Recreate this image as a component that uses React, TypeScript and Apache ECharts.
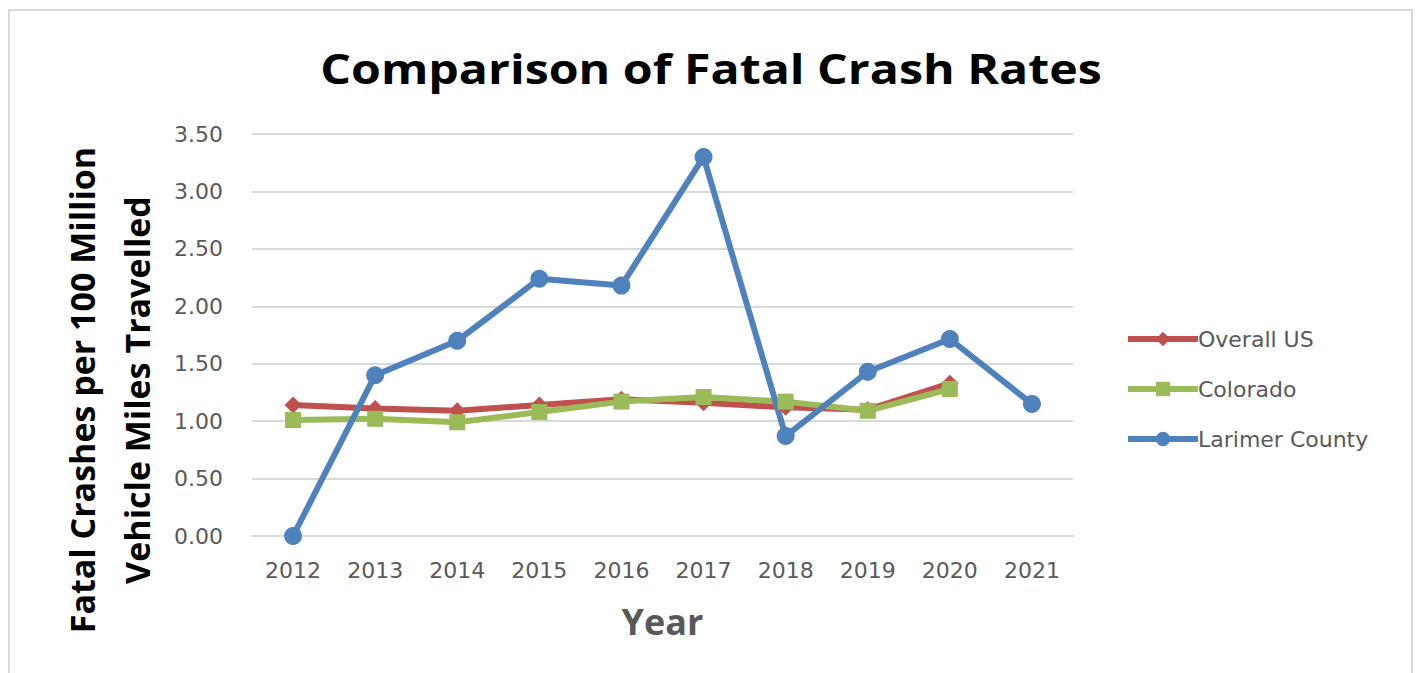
import React, { useEffect, useRef } from "react";
import * as echarts from "echarts";

const years = ["2012", "2013", "2014", "2015", "2016", "2017", "2018", "2019", "2020", "2021"];
const overallUS = [1.14, 1.11, 1.09, 1.14, 1.19, 1.16, 1.12, 1.1, 1.33, null];
const colorado = [1.01, 1.02, 0.99, 1.08, 1.17, 1.21, 1.17, 1.09, 1.28, null];
const larimer = [0.0, 1.4, 1.7, 2.24, 2.18, 3.3, 0.87, 1.43, 1.715, 1.15];
const yTicks = { min: 0, max: 3.5, interval: 0.5 };

const FONT = "Open Sans, Lato, sans-serif";
const TICKFONT = "DejaVu Sans, sans-serif";

export default function App() {
  const ref = useRef<HTMLDivElement>(null);
  useEffect(() => {
    if (!ref.current) return;
    const chart = echarts.init(ref.current, undefined, { renderer: "svg" });
    chart.setOption({
      animation: false,
      backgroundColor: "#ffffff",
      graphic: [
        {
          type: "rect",
          shape: { x: 9, y: 10, width: 1403, height: 680 },
          style: { fill: "none", stroke: "#d9d9d9", lineWidth: 2 },
          silent: true,
        },
        {
          type: "text",
          x: 711,
          y: 68,
          scaleX: 1.15,
          style: {
            text: "Comparison of Fatal Crash Rates",
            font: `bold 42px ${FONT}`,
            fill: "#000000",
            align: "center",
            verticalAlign: "middle",
          },
        },
        {
          type: "text",
          x: 82,
          y: 390,
          rotation: Math.PI / 2,
          style: {
            text: "Fatal Crashes per 100 Million",
            font: `bold 34px ${FONT}`,
            fill: "#000000",
            align: "center",
            verticalAlign: "middle",
          },
        },
        {
          type: "text",
          x: 137,
          y: 390,
          rotation: Math.PI / 2,
          style: {
            text: "Vehicle Miles Travelled",
            font: `bold 34px ${FONT}`,
            fill: "#000000",
            align: "center",
            verticalAlign: "middle",
          },
        },
      ],
      legend: {
        orient: "vertical",
        left: 1120,
        top: 323,
        itemWidth: 70,
        itemHeight: 18,
        itemGap: 28,
        lineStyle: { width: 6 },
        textStyle: { fontFamily: TICKFONT, fontSize: 22, color: "#595959", padding: [0, 0, 0, -5] },
        data: ["Overall US", "Colorado", "Larimer County"],
      },
      grid: { left: 252, right: 346, top: 134, bottom: 137, containLabel: false },
      xAxis: {
        type: "category",
        data: years,
        boundaryGap: true,
        name: "Year",
        nameLocation: "middle",
        nameGap: 67,
        nameTextStyle: { fontFamily: FONT, fontSize: 36, fontWeight: "bold", color: "#595959" },
        axisLine: { lineStyle: { color: "#d9d9d9", width: 2 } },
        axisTick: { show: false },
        axisLabel: { fontFamily: TICKFONT, fontSize: 22, color: "#595959", margin: 23 },
      },
      yAxis: {
        type: "value",
        min: yTicks.min,
        max: yTicks.max,
        interval: yTicks.interval,
        axisLine: { show: false },
        axisTick: { show: false },
        splitLine: { lineStyle: { color: "#d9d9d9", width: 2 } },
        axisLabel: {
          fontFamily: TICKFONT,
          fontSize: 22,
          color: "#595959",
          margin: 29,
          formatter: (v: number) => v.toFixed(2),
        },
      },
      series: [
        {
          name: "Overall US",
          type: "line",
          data: overallUS,
          color: "#C0504D",
          symbol: "diamond",
          symbolSize: 17,
          lineStyle: { width: 6, color: "#C0504D" },
          itemStyle: { color: "#C0504D" },
        },
        {
          name: "Colorado",
          type: "line",
          data: colorado,
          color: "#9BBB59",
          symbol: "rect",
          symbolSize: 16,
          lineStyle: { width: 6, color: "#9BBB59" },
          itemStyle: { color: "#9BBB59" },
        },
        {
          name: "Larimer County",
          type: "line",
          data: larimer,
          color: "#4F81BD",
          symbol: "circle",
          symbolSize: 18,
          lineStyle: { width: 6, color: "#4F81BD" },
          itemStyle: { color: "#4F81BD" },
        },
      ],
    });
    return () => chart.dispose();
  }, []);
  return (
    <div
      ref={ref}
      style={{ position: "absolute", left: 0, top: 0, width: 1419, height: 673 }}
    />
  );
}
